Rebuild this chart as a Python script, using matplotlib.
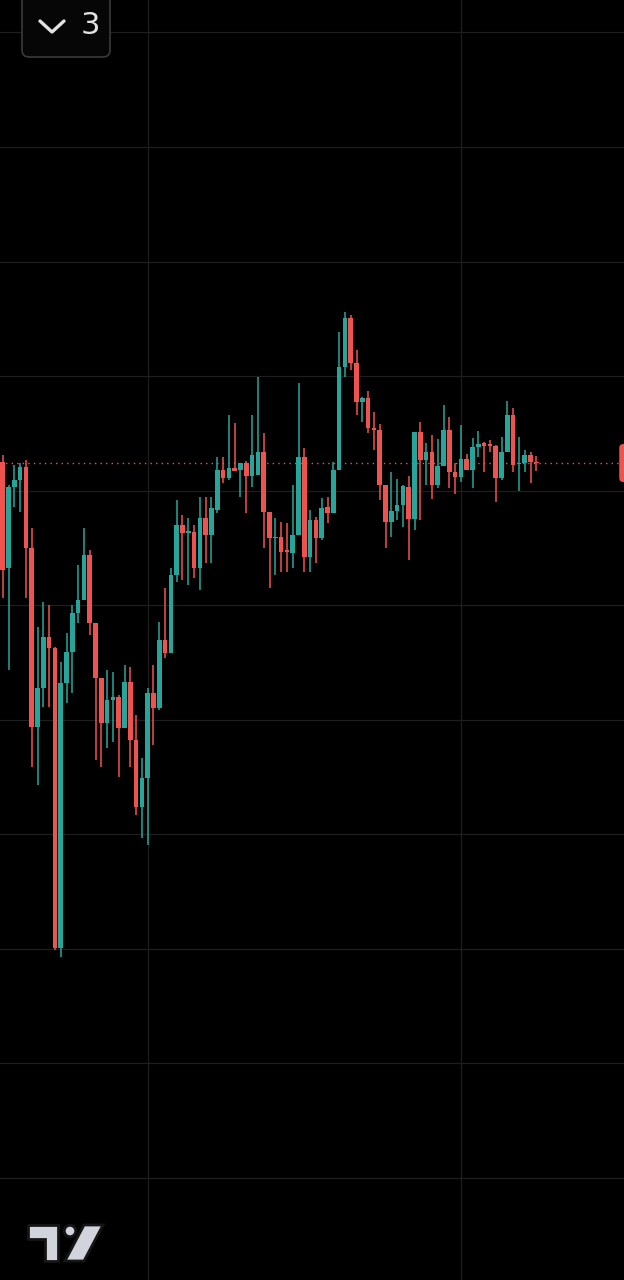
#!/usr/bin/env python3
"""
Dark candlestick chart snapshot (mobile, tradingview-ish look)
"""

import numpy as np
import matplotlib
matplotlib.use("Agg")
import matplotlib.pyplot as plt
from matplotlib.patches import FancyBboxPatch, Polygon, Circle

# OHLC, one candle per bar, oldest first
opens = [818, 712, 793, 800, 813, 732, 553, 592, 643, 632,
         332, 597, 628, 667, 680, 725, 657, 602, 557, 580,
         583, 552, 598, 540, 473, 502, 587, 572, 640, 627,
         705, 755, 747, 748, 712, 762, 745, 770, 810, 802,
         812, 810, 817, 804, 805, 828, 768, 742, 743, 730,
         727, 745, 823, 723, 760, 742, 773, 767, 810, 913,
         962, 917, 878, 882, 852, 850, 795, 758, 769, 775,
         793, 761, 848, 820, 828, 795, 814, 850, 808, 803,
         821, 810, 833, 837, 836, 834, 802, 828, 865, 816,
         817, 825, 818]
highs = [825, 795, 815, 817, 820, 752, 653, 678, 675, 633,
         618, 647, 675, 715, 752, 730, 657, 602, 610, 608,
         585, 615, 613, 565, 522, 592, 615, 658, 692, 712,
         780, 765, 762, 755, 783, 783, 783, 823, 823, 865,
         857, 817, 819, 865, 903, 847, 768, 762, 758, 757,
         795, 897, 832, 770, 763, 782, 783, 818, 948, 968,
         965, 930, 883, 889, 868, 856, 795, 808, 801, 795,
         804, 848, 858, 837, 845, 841, 875, 863, 817, 855,
         826, 842, 849, 838, 840, 835, 843, 879, 872, 843,
         830, 828, 824]
lows = [682, 610, 773, 768, 682, 513, 495, 573, 573, 330,
        323, 577, 587, 657, 680, 645, 520, 513, 532, 538,
        503, 552, 513, 465, 442, 435, 535, 570, 622, 627,
        698, 700, 695, 702, 690, 717, 717, 767, 797, 800,
        809, 783, 767, 793, 805, 732, 692, 705, 708, 708,
        712, 745, 708, 708, 717, 740, 757, 767, 810, 903,
        910, 865, 858, 847, 830, 780, 732, 743, 760, 753,
        720, 750, 760, 795, 781, 792, 814, 792, 786, 798,
        810, 792, 823, 808, 828, 778, 800, 828, 808, 789,
        808, 797, 809]
closes = [710, 793, 800, 813, 732, 553, 592, 643, 632, 332,
          597, 628, 667, 680, 725, 657, 602, 557, 580, 583,
          552, 598, 540, 473, 502, 587, 572, 640, 627, 705,
          755, 747, 749, 712, 762, 745, 772, 810, 802, 812,
          809, 817, 804, 825, 828, 768, 742, 743, 728, 728,
          745, 823, 723, 760, 742, 772, 767, 810, 913, 962,
          917, 878, 882, 852, 850, 795, 758, 769, 775, 794,
          761, 848, 820, 828, 795, 814, 850, 808, 803, 821,
          810, 833, 836, 834, 834, 802, 828, 865, 815, 817,
          825, 818, 817]

time_grid = [25, 79]          # bar index of the vertical grid lines
badge_text = "3"

UP = "#26a69a"
DOWN = "#ef5350"
GRID = "#1e1e1e"
BG = "#000000"

o = np.array(opens, dtype=float)
h = np.array(highs, dtype=float)
l = np.array(lows, dtype=float)
c = np.array(closes, dtype=float)
idx = np.arange(len(o))
colors = np.where(c >= o, UP, DOWN)

fig = plt.figure(figsize=(6.24, 12.8), dpi=100, facecolor=BG)
ax = fig.add_axes([0, 0, 1, 1], facecolor=BG)

# wicks + bodies
ax.vlines(idx, l, h, colors=colors, linewidth=1.1, zorder=3)
body_lo = np.minimum(o, c)
body_h = np.maximum(np.abs(c - o), 1.5)
ax.bar(idx, body_h, bottom=body_lo, width=0.8, color=colors,
       linewidth=0, zorder=4)

# scales: bar spacing ~5.8 px, first bar ~2.7 px from the left edge
ax.set_xlim(-2.7 / 5.8, (624 - 2.7) / 5.8)
ax.set_ylim(0, 1280)

ax.set_xticks(time_grid)
ax.set_yticks(1133 - 114.56 * np.arange(-1, 10))
ax.grid(True, color=GRID, linewidth=0.9, zorder=0)
ax.tick_params(length=0, labelbottom=False, labelleft=False)
for s in ax.spines.values():
    s.set_visible(False)

# last price line + label
last = closes[-1]
ax.axhline(last, color=DOWN, linewidth=1.0, linestyle=(0, (1, 3)), zorder=2)
ax.add_patch(FancyBboxPatch((106.3, last - 19), 3.0, 38,
                            boxstyle="round,pad=0,rounding_size=0.7",
                            mutation_aspect=5.8, fc=DOWN, ec="none",
                            zorder=5, clip_on=False))

# overlay in pixel units for the UI bits
ov = fig.add_axes([0, 0, 1, 1], facecolor="none")
ov.set_xlim(0, 624)
ov.set_ylim(1280, 0)
ov.axis("off")

ov.add_patch(FancyBboxPatch((22, -20), 88, 77,
                            boxstyle="round,pad=0,rounding_size=7",
                            fc="#060606", ec="#3a3a3a", lw=1.2))
ov.plot([40, 52, 64], [21, 32, 21], color="#e2e2e2", lw=2.4,
        solid_capstyle="round", solid_joinstyle="round")
ov.text(90, 26, badge_text, fontsize=22, color="#e2e2e2",
        ha="center", va="center")

logo_fc = "#d1d4dc"
logo_ec = "#161616"
ov.add_patch(Polygon([(28, 1225), (58.3, 1225), (58.3, 1261), (45, 1261),
                      (45, 1238.5), (28, 1238.5)],
                     closed=True, fc=logo_fc, ec=logo_ec, lw=2.0))
ov.add_patch(Circle((70, 1231), 5.7, fc=logo_fc, ec=logo_ec, lw=2.0))
ov.add_patch(Polygon([(84, 1225), (103, 1225), (84, 1261), (65, 1261)],
                     closed=True, fc=logo_fc, ec=logo_ec, lw=2.0))

fig.savefig("out.png", dpi=100, facecolor=BG)
